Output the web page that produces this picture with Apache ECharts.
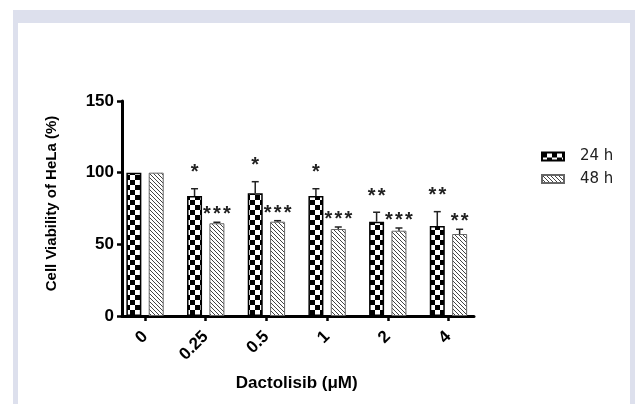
<!DOCTYPE html>
<html><head><meta charset="utf-8">
<script src="https://cdn.jsdelivr.net/npm/echarts@6/dist/echarts.min.js"></script>
<style>
html,body{margin:0;padding:0;background:#fff;}
#frame{position:absolute;left:13px;top:10px;width:622px;height:394px;background:#dde0ed;}
#panel{position:absolute;left:18px;top:23px;width:612px;height:381px;background:#fff;}
#chart{position:absolute;left:0;top:0;width:635px;height:404px;}
</style></head><body>
<div id="frame"></div><div id="panel"></div><div id="chart"></div>
<script>
// ---- data ----
const categories = ['0', '0.25', '0.5', '1', '2', '4'];
const seriesNames = ['24 h', '48 h'];
const viability24h = [100, 83.7, 85.6, 83.7, 65.8, 62.8];
const error24h = [0, 5.1, 8.1, 5.1, 6.6, 10.0];
const viability48h = [100, 64.7, 65.8, 60.7, 59.5, 57.2];
const error48h = [0, 0.7, 0.7, 1.4, 1.9, 3.3];
const signif24h = ['', '*', '*', '*', '**', '**'];
const signif48h = ['', '***', '***', '***', '***', '**'];
const yMin = 0, yMax = 150, yStep = 50;

// ---- patterns ----
function checkerCanvas() {
  const c = document.createElement('canvas'); c.width = 10; c.height = 10;
  const g = c.getContext('2d');
  g.fillStyle = '#fff'; g.fillRect(0, 0, 10, 10);
  g.fillStyle = '#000'; g.fillRect(0, 0, 5, 5); g.fillRect(5, 5, 5, 5);
  return c;
}
function hatchCanvas() {
  const s = 4;
  const c = document.createElement('canvas'); c.width = s; c.height = s;
  const g = c.getContext('2d');
  g.fillStyle = '#fff'; g.fillRect(0, 0, s, s);
  g.strokeStyle = '#444'; g.lineWidth = 1;
  for (const k of [-s, 0, s]) { g.beginPath(); g.moveTo(0, k); g.lineTo(s, k + s); g.stroke(); }
  return c;
}
const checkerFill = { image: checkerCanvas(), repeat: 'repeat' };
const hatchFill = { image: hatchCanvas(), repeat: 'repeat' };

const barWidth = 15, barGapRatio = 0.49;
const centerOffset = (barWidth + barWidth * barGapRatio) / 2;
const starPitch = 10;

function errorSeries(values, errors, signif, sign, starOffset) {
  return {
    type: 'custom', name: 'err' + sign, xAxisIndex: 0, yAxisIndex: 0, z: 5,
    data: values.map((v, i) => [i, v, v + errors[i]]),
    encode: { x: 0, y: [1, 2] },
    renderItem: function (params, api) {
      const i = api.value(0);
      const p0 = api.coord([i, api.value(1)]);
      const p1 = api.coord([i, api.value(2)]);
      const x = p0[0] + sign * centerOffset;
      const children = [];
      if (api.value(2) > api.value(1)) {
        children.push({ type: 'line', shape: { x1: x, y1: p0[1], x2: x, y2: p1[1] }, style: { stroke: '#222', lineWidth: 1.5 } });
        children.push({ type: 'line', shape: { x1: x - 3.5, y1: p1[1], x2: x + 3.5, y2: p1[1] }, style: { stroke: '#222', lineWidth: 1.5 } });
      }
      const t = signif[params.dataIndex];
      const n = t.length;
      for (let k = 0; k < n; k++) {
        children.push({ type: 'text', style: { text: t[k], x: x + (k - (n - 1) / 2) * starPitch, y: p1[1] - starOffset, align: 'center', verticalAlign: 'middle', font: 'bold 20px "Liberation Sans"', fill: '#222' } });
      }
      return { type: 'group', children: children };
    }
  };
}

const chart = echarts.init(document.getElementById('chart'), null, { renderer: 'canvas' });
chart.setOption({
  animation: false,
  grid: [
    { left: 114.7, width: 364.1, top: 101, height: 215 },
    { left: 122, width: 352, top: 101, height: 215 }
  ],
  legend: {
    data: seriesNames, orient: 'vertical', left: 536, top: 144, icon: 'rect',
    itemWidth: 22, itemHeight: 8, itemGap: 7.5,
    textStyle: { fontFamily: 'DejaVu Sans', fontSize: 15, color: '#222', padding: [0, 0, 0, 11] }
  },
  xAxis: [
    {
      type: 'category', gridIndex: 0, data: categories,
      axisLine: { show: false },
      axisTick: { show: true, alignWithLabel: true, length: 5, lineStyle: { color: '#000', width: 2.5 } },
      axisLabel: { rotate: 45, margin: 18, fontFamily: 'Liberation Sans', fontWeight: 'bold', fontSize: 17, color: '#000' },
      name: 'Dactolisib (\u03bcM)', nameLocation: 'middle', nameGap: 59,
      nameTextStyle: { fontFamily: 'Liberation Sans', fontWeight: 'bold', fontSize: 17, color: '#000' }
    },
    {
      type: 'value', gridIndex: 1, min: 0, max: 1,
      axisLine: { show: true, onZero: false, lineStyle: { color: '#000', width: 3 } },
      axisTick: { show: false }, axisLabel: { show: false }, splitLine: { show: false }
    }
  ],
  yAxis: [
    { type: 'value', gridIndex: 0, min: yMin, max: yMax, interval: yStep, show: false, splitLine: { show: false } },
    {
      type: 'value', gridIndex: 1, min: yMin, max: yMax, interval: yStep,
      axisLine: { show: true, lineStyle: { color: '#000', width: 3 } },
      axisTick: { show: true, length: 5, lineStyle: { color: '#000', width: 2.5 } },
      axisLabel: { margin: 8, fontFamily: 'Liberation Sans', fontWeight: 'bold', fontSize: 17, color: '#000' },
      splitLine: { show: false },
      name: 'Cell Viability of HeLa (%)', nameLocation: 'middle', nameGap: 63,
      nameTextStyle: { fontFamily: 'Liberation Sans', fontWeight: 'bold', fontSize: 15, color: '#000', padding: [0, 0, 0, 10] }
    }
  ],
  series: [
    {
      type: 'bar', name: seriesNames[0], xAxisIndex: 0, yAxisIndex: 0, data: viability24h,
      barWidth: barWidth, barGap: (barGapRatio * 100) + '%',
      itemStyle: { color: checkerFill, borderColor: '#000', borderWidth: 1.5 }
    },
    {
      type: 'bar', name: seriesNames[1], xAxisIndex: 0, yAxisIndex: 0, data: viability48h,
      barWidth: barWidth,
      itemStyle: { color: hatchFill, borderColor: '#666', borderWidth: 1 }
    },
    errorSeries(viability24h, error24h, signif24h, -1, 16),
    errorSeries(viability48h, error48h, signif48h, 1, 7.5)
  ]
});
</script></body></html>
